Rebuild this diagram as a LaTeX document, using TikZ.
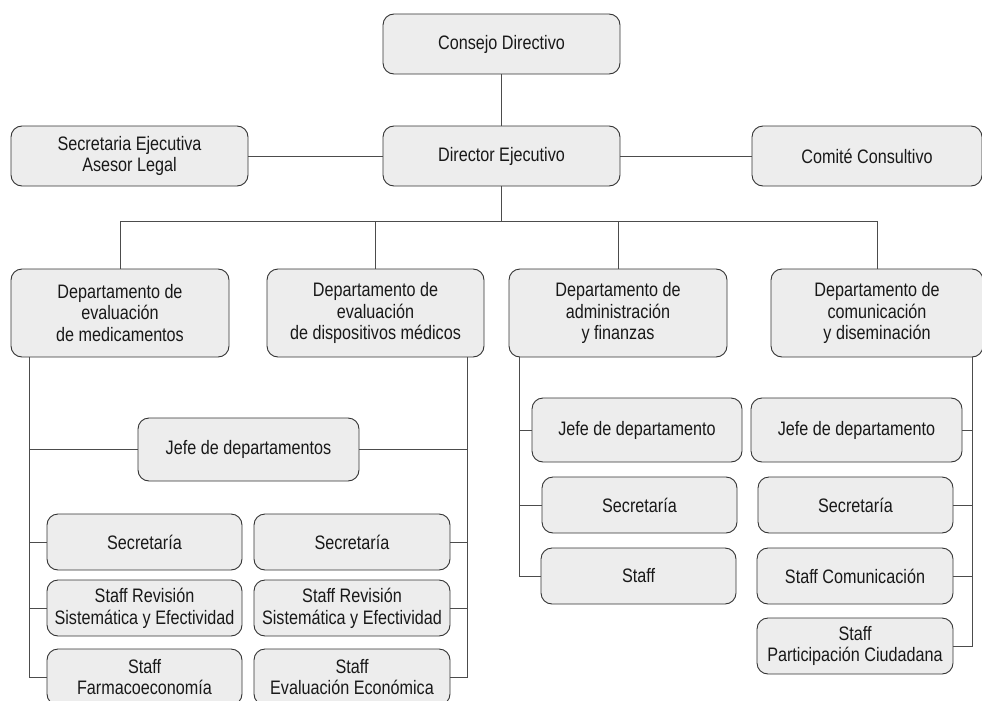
\documentclass[tikz,border=0pt]{standalone}
\usepackage{fontspec}
\setmainfont{Liberation Sans}[FakeStretch=0.83]
\usepackage{tikz}
\usetikzlibrary{positioning}
\usepackage{xcolor}

\begin{document}
\begin{tikzpicture}[x=1pt,y=-1pt]
      \tikzstyle{unidad} = [draw=black!80, fill=black!7, rounded corners=11pt, line width=0.9pt, inner sep=0pt, align=center, minimum height=56pt, minimum width=195pt, font=\fontsize{19.5}{21.7}\selectfont, text=black!90]
      \tikzstyle{linea} = [draw=black!70, line width=0.9pt]

      \useasboundingbox (0,0) rectangle (982,701);

      % direccion
      \node[unidad, minimum width=237pt, minimum height=60pt] (consejo) at (501.5,44) {Consejo Directivo};
      \node[unidad, minimum width=237pt, minimum height=60pt] (director) at (501.5,156) {Director Ejecutivo};
      \node[unidad, minimum width=237pt, minimum height=60pt] (secretaria) at (129.5,156) {Secretaria Ejecutiva\\Asesor Legal};
      \node[unidad, minimum width=230pt, minimum height=60pt] (comite) at (867,156) {Comité Consultivo};

      % departamentos
      \node[unidad, minimum width=218pt, minimum height=88pt] (dmed) at (120,313) {Departamento de\\evaluación\\de medicamentos};
      \node[unidad, minimum width=217pt, minimum height=88pt] (ddis) at (375.5,313) {Departamento de\\evaluación\\de dispositivos médicos};
      \node[unidad, minimum width=218pt, minimum height=88pt] (dadm) at (618,313) {Departamento de\\administración\\y finanzas};
      \node[unidad, minimum width=212pt, minimum height=88pt] (dcom) at (877,313) {Departamento de\\comunicación\\y diseminación};

      % evaluacion
      \node[unidad, minimum width=221pt, minimum height=63pt] (jefes) at (248.5,449.5) {Jefe de departamentos};
      \node[unidad] (secmed) at (144.5,542) {Secretaría};
      \node[unidad] (revmed) at (144.5,608) {Staff Revisión\\Sistemática y Efectividad};
      \node[unidad] (farmed) at (144.5,677) {Staff\\Farmacoeconomía};
      \node[unidad, minimum width=196pt] (secdis) at (352,542) {Secretaría};
      \node[unidad, minimum width=196pt] (revdis) at (352,608) {Staff Revisión\\Sistemática y Efectividad};
      \node[unidad, minimum width=196pt] (ecodis) at (352,677) {Staff\\Evaluación Económica};

      % administracion
      \node[unidad, minimum width=210pt, minimum height=64pt] (jefeadm) at (637,430) {Jefe de departamento};
      \node[unidad] (secadm) at (639.5,505) {Secretaría};
      \node[unidad] (staffadm) at (638.5,576) {Staff};

      % comunicacion
      \node[unidad, minimum width=211pt, minimum height=64pt] (jefecom) at (856.5,430) {Jefe de departamento};
      \node[unidad] (seccom) at (855.5,505) {Secretaría};
      \node[unidad, minimum width=196pt] (staffcom) at (855,576) {Staff Comunicación};
      \node[unidad, minimum width=196pt] (partcom) at (855,646) {Staff\\Participación Ciudadana};

      \coordinate (bus) at ([yshift=-35pt]director.south);
      \coordinate (ramed) at ([xshift=19pt]dmed.south west);
      \coordinate (radis) at ([xshift=-17pt]ddis.south east);
      \coordinate (raadm) at ([xshift=11pt]dadm.south west);
      \coordinate (racom) at ([xshift=-11pt]dcom.south east);

      \draw[linea] (consejo) -- (director);
      \draw[linea] (secretaria) -- (director);
      \draw[linea] (director) -- (comite);
      \draw[linea] (director.south) -- (bus);
      \foreach \d in {dmed,ddis,dadm,dcom}
        \draw[linea] (bus) -| (\d.north);

      \foreach \n in {jefes,secmed,revmed,farmed}
        \draw[linea] (ramed) |- (\n.west);
      \foreach \n in {jefes,secdis,revdis,ecodis}
        \draw[linea] (radis) |- (\n.east);
      \foreach \n in {jefeadm,secadm,staffadm}
        \draw[linea] (raadm) |- (\n.west);
      \foreach \n in {jefecom,seccom,staffcom,partcom}
        \draw[linea] (racom) |- (\n.east);
    \end{tikzpicture}
\end{document}
